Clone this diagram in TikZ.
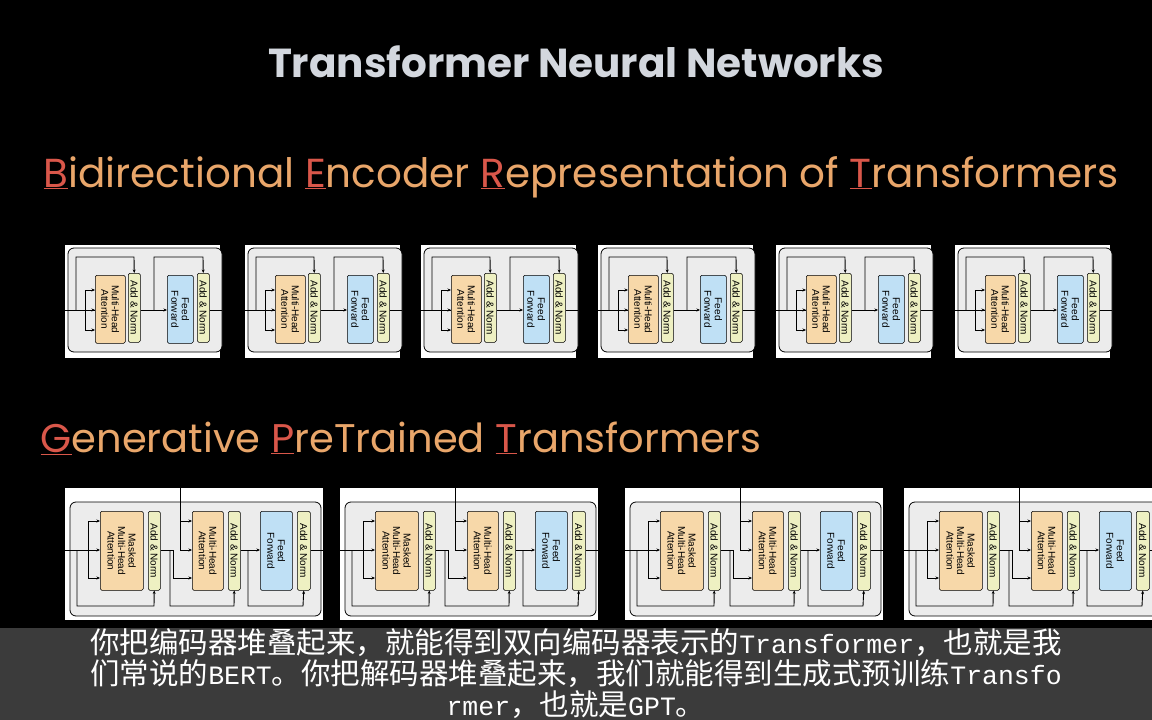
\documentclass[tikz,border=0pt]{standalone}
\usepackage{fontspec}
\setmainfont{Poppins}
\setsansfont{Liberation Sans}
\newfontfamily\cjk{Noto Sans CJK SC}
\newfontfamily\latmono{Liberation Mono}
\newcommand{\lat}[1]{{\latmono\fontsize{26.5}{31}\selectfont #1}}
\usetikzlibrary{arrows.meta}
\definecolor{titlegray}{HTML}{D3D7DE}
\definecolor{hlorange}{HTML}{E9A66A}
\definecolor{hlred}{HTML}{D9574A}
\definecolor{mhacol}{HTML}{F7D8A9}
\definecolor{normcol}{HTML}{EEF0C2}
\definecolor{ffcol}{HTML}{BFE0F5}
\definecolor{boxgray}{HTML}{ECECEC}
\tikzset{
  card/.style={fill=white, draw=none},
  frame/.style={draw=black, fill=boxgray, rounded corners=6pt, line width=0.8pt},
  layer/.style={draw=black, line width=0.5pt, rounded corners=1.5pt, inner sep=0pt},
  lbl/.style={rotate=-90, font=\fontsize{10}{10.5}\selectfont\sffamily, align=center, inner sep=0pt},
  flow/.style={line width=0.9pt, -{Stealth[length=3.5pt,width=3pt]}},
  wire/.style={line width=0.9pt}
}
% encoder block, local size 155 x 113
\newcommand{\encblock}[3]{%
  \begin{scope}[shift={(#1,#2)}]
    \fill[card] (0,0) rectangle (155,113);
    \draw[frame] (3,3) rectangle (157,107);
    \node[layer, fill=mhacol, minimum width=30pt, minimum height=68pt, anchor=north west] (mha#3) at (30,30) {};
    \node[lbl] at (mha#3) {Multi-Head\\Attention};
    \node[layer, fill=normcol, minimum width=12pt, minimum height=69pt, anchor=north west] (an#3) at (63,28) {};
    \node[lbl] at (an#3) {Add \& Norm};
    \node[layer, fill=ffcol, minimum width=26pt, minimum height=68pt, anchor=north west] (ff#3) at (102,30) {};
    \node[lbl] at (ff#3) {Feed\\Forward};
    \node[layer, fill=normcol, minimum width=12pt, minimum height=69pt, anchor=north west] (bn#3) at (132,28) {};
    \node[lbl] at (bn#3) {Add \& Norm};
    \draw[wire] (0,65) -- (mha#3.west|-0,65);
    \draw[flow] (20,65) -- (mha#3.west|-0,65);
    \draw[flow] (20,65) -- (20,45) -- (mha#3.west|-0,45);
    \draw[flow] (20,65) -- (20,85) -- (mha#3.west|-0,85);
    \draw[flow] (11,65) -- (11,12) -- (69,12) -- (an#3.north);
    \draw[flow] (an#3.east|-0,65) -- (ff#3.west|-0,65);
    \draw[flow] (89,65) -- (89,12) -- (138,12) -- (bn#3.north);
    \draw[wire] (bn#3.east|-0,65) -- (157,65);
  \end{scope}}
% decoder block, local size 258 x 132
\newcommand{\decblock}[3]{%
  \begin{scope}[shift={(#1,#2)}]
    \fill[card] (0,0) rectangle (258,132);
    \draw[frame] (5,14) rectangle (256,128);
    \node[layer, fill=mhacol, minimum width=43pt, minimum height=79pt, anchor=north west] (mm#3) at (35,23) {};
    \node[lbl] at (mm#3) {Masked\\Multi-Head\\Attention};
    \node[layer, fill=normcol, minimum width=12pt, minimum height=79pt, anchor=north west] (na#3) at (83,23) {};
    \node[lbl] at (na#3) {Add \& Norm};
    \node[layer, fill=mhacol, minimum width=31pt, minimum height=79pt, anchor=north west] (mh#3) at (127,23) {};
    \node[lbl] at (mh#3) {Multi-Head\\Attention};
    \node[layer, fill=normcol, minimum width=12pt, minimum height=79pt, anchor=north west] (nb#3) at (163,23) {};
    \node[lbl] at (nb#3) {Add \& Norm};
    \node[layer, fill=ffcol, minimum width=32pt, minimum height=79pt, anchor=north west] (fd#3) at (195,23) {};
    \node[lbl] at (fd#3) {Feed\\Forward};
    \node[layer, fill=normcol, minimum width=13pt, minimum height=79pt, anchor=north west] (nc#3) at (232,23) {};
    \node[lbl] at (nc#3) {Add \& Norm};
    \draw[wire] (0,62) -- (23,62);
    \draw[flow] (23,62) -- (mm#3.west|-0,62);
    \draw[flow] (23,62) -- (23,33) -- (mm#3.west|-0,33);
    \draw[flow] (23,62) -- (23,90) -- (mm#3.west|-0,90);
    \draw[flow] (12,62) -- (12,118) -- (89,118) -- (na#3.south);
    \draw[wire] (na#3.east|-0,62) -- (108,62) -- (108,90);
    \draw[flow] (108,90) -- (mh#3.west|-0,90);
    \draw[wire] (115,0) -- (115,62);
    \draw[flow] (115,33) -- (mh#3.west|-0,33);
    \draw[flow] (115,62) -- (mh#3.west|-0,62);
    \draw[flow] (105,62) -- (105,118) -- (169,118) -- (nb#3.south);
    \draw[flow] (nb#3.east|-0,62) -- (fd#3.west|-0,62);
    \draw[flow] (183,62) -- (183,118) -- (238,118) -- (nc#3.south);
    \draw[wire] (nc#3.east|-0,62) -- (258,62);
  \end{scope}}
\begin{document}
\begin{tikzpicture}[x=1pt,y=-1pt]
  \fill[black] (0,0) rectangle (1152,720);
  \useasboundingbox (0,0) rectangle (1152,720);
  % headings
  \node[text=titlegray, font=\fontsize{40.5}{44}\selectfont\bfseries] (title) at (576,62) {Transformer Neural Networks};
  \node[anchor=west, text=hlorange, font=\fontsize{40.5}{44}\selectfont] (bert) at (40,177)
    {\textcolor{hlred}{\underline{B}}idirectional \textcolor{hlred}{\underline{E}}ncoder \textcolor{hlred}{\underline{R}}epresentation of \textcolor{hlred}{\underline{T}}ransformers};
  \node[anchor=west, text=hlorange, font=\fontsize{40}{44}\selectfont] (gpt) at (37,438)
    {\textcolor{hlred}{\underline{G}}enerative \textcolor{hlred}{\underline{P}}reTrained \textcolor{hlred}{\underline{T}}ransformers};
  % encoder stack
  \foreach \x [count=\i] in {65,245,421,598,776,955}
    \encblock{\x}{245}{e\i};
  % decoder stack
  \foreach \x [count=\i] in {65,340,625,904}
    \decblock{\x}{488}{d\i};
  % caption band
  \fill[gray!55!black, opacity=0.85] (0,628) rectangle (1152,720);
  \node[text=white, align=center, font=\cjk\fontsize{29.5}{31}\selectfont] (caption) at (576,674)
    {你把编码器堆叠起来，就能得到双向编码器表示的\lat{Transformer}，也就是我\\
     们常说的\lat{BERT}。你把解码器堆叠起来，我们就能得到生成式预训练\lat{Transfo}\\
     \lat{rmer}，也就是\lat{GPT}。};
\end{tikzpicture}
\end{document}
